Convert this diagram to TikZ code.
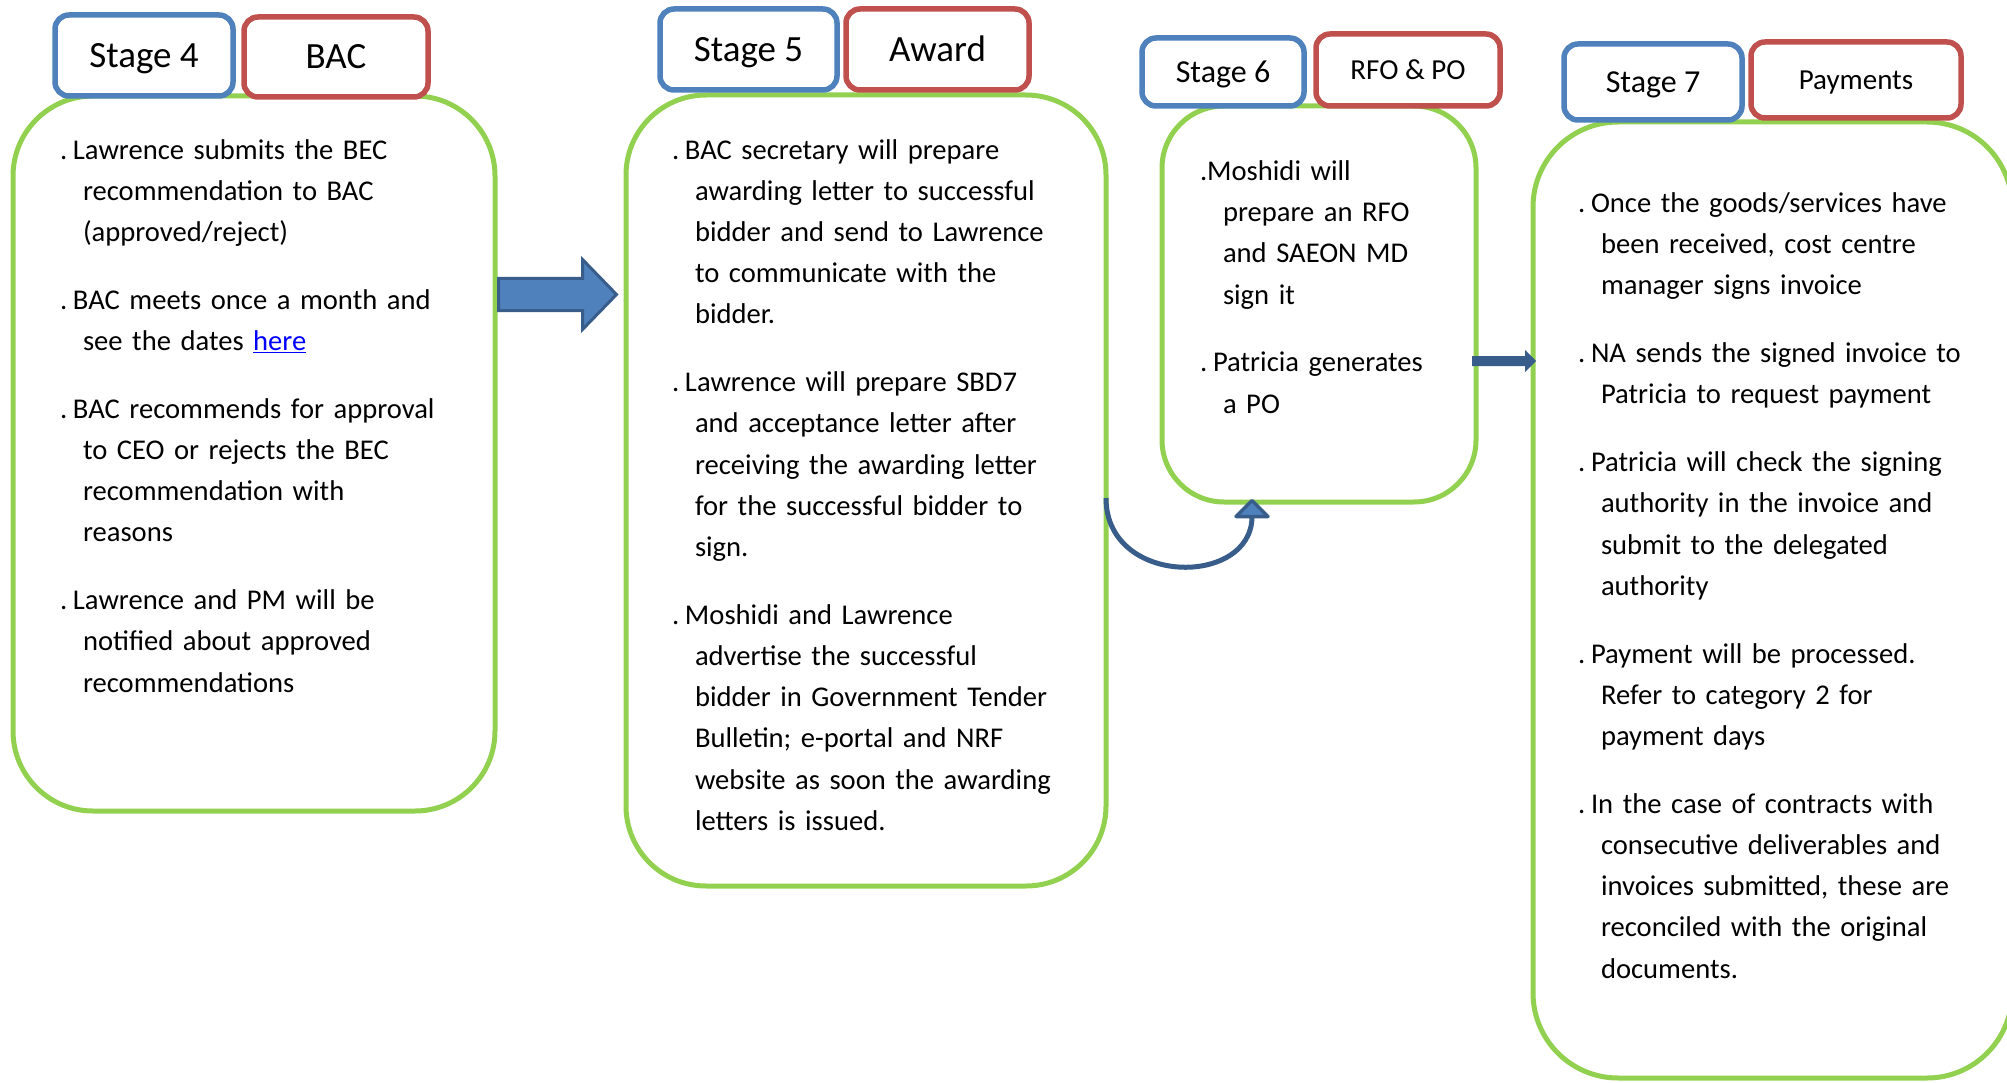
\documentclass[tikz,border=0pt]{standalone}
\usepackage{fontspec}
\setmainfont{Carlito}
\usetikzlibrary{calc}
\definecolor{gboxc}{HTML}{92D050}
\definecolor{bboxc}{HTML}{4F81BD}
\definecolor{rboxc}{HTML}{C0504D}
\definecolor{darkblue}{HTML}{385D8A}
\definecolor{linkblue}{HTML}{0000FF}
\newcommand\ind{\hspace*{23pt}}
\newcommand\dt{.\hspace{5.8pt}}
\begin{document}
\begin{tikzpicture}[x=1pt,y=-1pt,
  greenbox/.style={draw=gboxc, line width=5pt, inner sep=0pt, outer sep=0pt},
  labelbox/.style={line width=5.5pt, fill=white, rounded corners=14pt, inner sep=0pt, outer sep=0pt, text depth=0pt},
  stagebox/.style={labelbox, draw=bboxc},
  namebox/.style={labelbox, draw=rboxc},
  bigtitle/.style={font=\fontsize{37}{44}\selectfont, text height=23.8pt},
  midtitle/.style={font=\fontsize{32}{38}\selectfont, text height=20.6pt},
  smalltitle/.style={font=\fontsize{29}{35}\selectfont, text height=18.7pt},
  bodytext/.style={anchor=north west, inner sep=0pt, outer sep=0pt, text width=440pt, align=left,
    font=\fontsize{28.6}{41.2}\selectfont\frenchspacing},
  blockarrow/.style={fill=bboxc, draw=darkblue, line width=3pt, line join=miter},
]
\useasboundingbox (0,0) rectangle (2007,1083);
\clip (0,0) rectangle (2007,1083);

% green content boxes
\node[greenbox, rounded corners=80pt, minimum width=482pt, minimum height=715pt] (b4) at (254,453.5) {};
\node[greenbox, rounded corners=80pt, minimum width=480pt, minimum height=791pt] (b5) at (866,490.5) {};
\node[greenbox, rounded corners=62pt, minimum width=314pt, minimum height=396pt] (b6) at (1319,304) {};
\node[greenbox, rounded corners=85pt, minimum width=479pt, minimum height=956pt] (b7) at (1772.5,600) {};

% title boxes
\node[stagebox, bigtitle, minimum width=178pt, minimum height=81pt] (s4) at (144,55.5) {Stage 4};
\node[namebox, bigtitle, minimum width=184pt, minimum height=80pt] (n4) at (336,57) {BAC};
\node[stagebox, bigtitle, minimum width=177pt, minimum height=81pt] (s5) at (748.5,49.5) {Stage 5};
\node[namebox, bigtitle, minimum width=183pt, minimum height=81pt] (n5) at (937.5,49.5) {Award};
\node[stagebox, midtitle, minimum width=162pt, minimum height=68pt] (s6) at (1223,72) {Stage 6};
\node[namebox, smalltitle, minimum width=184pt, minimum height=72pt] (n6) at (1408,70) {RFO \& PO};
\node[stagebox, midtitle, minimum width=178pt, minimum height=76pt] (s7) at (1653,82) {Stage 7};
\node[namebox, smalltitle, minimum width=210pt, minimum height=76pt] (n7) at (1856,80) {Payments};

% texts
\node[bodytext] (t4) at (60,130.2) {\strut\dt Lawrence submits the BEC\\
\ind recommendation to BAC\\
\ind (approved/reject)\\[26.6pt]
\dt BAC meets once a month and\\
\ind see the dates \textcolor{linkblue}{\underline{here}}\\[26.6pt]
\dt BAC recommends for approval\\
\ind to CEO or rejects the BEC\\
\ind recommendation with\\
\ind reasons\\[26.6pt]
\dt Lawrence and PM will be\\
\ind notified about approved\\
\ind recommendations};

\node[bodytext] (t5) at (672,130.2) {\strut\dt BAC secretary will prepare\\
\ind awarding letter to successful\\
\ind bidder and send to Lawrence\\
\ind to communicate with the\\
\ind bidder.\\[26.6pt]
\dt Lawrence will prepare SBD7\\
\ind and acceptance letter after\\
\ind receiving the awarding letter\\
\ind for the successful bidder to\\
\ind sign.\\[26.6pt]
\dt Moshidi and Lawrence\\
\ind advertise the successful\\
\ind bidder in Government Tender\\
\ind Bulletin; e-portal and NRF\\
\ind website as soon the awarding\\
\ind letters is issued.};

\node[bodytext] (t6) at (1200,151.7) {\strut.Moshidi will\\
\ind prepare an RFO\\
\ind and SAEON MD\\
\ind sign it\\[26.6pt]
\dt Patricia generates\\
\ind a PO};

\node[bodytext] (t7) at (1578,183.7) {\strut\dt Once the goods/services have\\
\ind been received, cost centre\\
\ind manager signs invoice\\[26.6pt]
\dt NA sends the signed invoice to\\
\ind Patricia to request payment\\[26.6pt]
\dt Patricia will check the signing\\
\ind authority in the invoice and\\
\ind submit to the delegated\\
\ind authority\\[26.6pt]
\dt Payment will be processed.\\
\ind Refer to category 2 for\\
\ind payment days\\[26.6pt]
\dt In the case of contracts with\\
\ind consecutive deliverables and\\
\ind invoices submitted, these are\\
\ind reconciled with the original\\
\ind documents.};

% arrow stage 4 -> stage 5
\coordinate (a45a) at ($(b4.east |- 0,294.5)+(3.5,0)$);
\coordinate (a45b) at ($(b5.west |- 0,294.5)+(-9.5,0)$);
\draw[blockarrow] ($(a45a)+(0,-16)$) -- ($(a45b)+(-34,-16)$) -- ($(a45b)+(-34,-35)$) -- (a45b)
  -- ($(a45b)+(-34,35)$) -- ($(a45b)+(-34,16)$) -- ($(a45a)+(0,16)$) -- cycle;

% curved arrow stage 5 -> stage 6
\coordinate (c56a) at (b5.east |- 0,498);
\coordinate (c56b) at ($(b6.south -| 1252,0)+(0,-1.5)$);
\draw[darkblue, line width=5pt] (c56a) .. controls (1106,587) and (1252,587) .. ($(c56b)+(0,16)$);
\draw[fill=bboxc, draw=darkblue, line width=3.5pt, line join=round] (c56b) -- ($(c56b)+(16,16)$) -- ($(c56b)+(-16,16)$) -- cycle;

% arrow stage 6 -> stage 7
\coordinate (c67a) at ($(b6.east |- 0,361)+(-4,0)$);
\coordinate (c67b) at ($(b7.west |- 0,361)+(3,0)$);
\fill[darkblue] ($(c67a)+(0,-5)$) -- ($(c67b)+(-11,-5)$) -- ($(c67b)+(-11,-11)$) -- (c67b)
  -- ($(c67b)+(-11,11)$) -- ($(c67b)+(-11,5)$) -- ($(c67a)+(0,5)$) -- cycle;
\end{tikzpicture}
\end{document}
